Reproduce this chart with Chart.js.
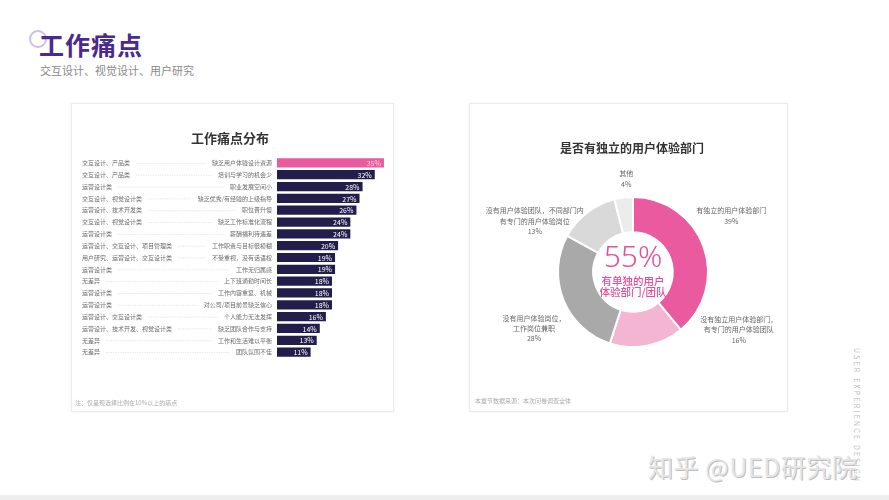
<!DOCTYPE html>
<html>
<head>
<meta charset="utf-8">
<script src="https://cdn.jsdelivr.net/npm/chart.js@4"></script>
<style>
  body { margin: 0; width: 889px; height: 500px; background: #fff; position: relative; overflow: hidden;
         font-family: "Noto Sans CJK SC", "Noto Sans", sans-serif; }
  .abs { position: absolute; }
  #ring { left: 29px; top: 30px; width: 14px; height: 14px; border: 2px solid #cdbfe8; border-radius: 50%; }
  #title { left: 39px; top: 28px; font-size: 25px; font-weight: 700; color: #4a2a8e; letter-spacing: 1px; line-height: 32px; }
  #subtitle { left: 40px; top: 62px; font-size: 11px; color: #8a8a8a; }
  .card { background: #fff; border: 1px solid #ececec; box-shadow: 0 0 3px rgba(0,0,0,0.06); }
  #card1 { left: 71px; top: 103px; width: 321px; height: 307px; }
  #card2 { left: 469px; top: 103px; width: 317px; height: 307px; }
  .ctitle { font-weight: 700; color: #333; text-align: center; line-height: 16px; }
  .note { font-size: 6px; color: #aaa; }
  #vert { left: 852px; top: 348px; writing-mode: vertical-rl; font-size: 7px; letter-spacing: 2.2px; color: #bbb; }
  #mark { left: 648px; top: 448px; font-size: 25px; color: #e6e6e6; text-shadow: 1px 1px 0 #bdbdbd; letter-spacing: 0.5px; }
  #bottom { left: 0; top: 495px; width: 889px; height: 5px; background: #eeeeee; }
</style>
</head>
<body>
<div class="abs" id="ring"></div>
<div class="abs" id="title">工作痛点</div>
<div class="abs" id="subtitle">交互设计、视觉设计、用户研究</div>
<div class="abs card" id="card1"><canvas id="bars" width="321" height="307"></canvas></div>
<div class="abs card" id="card2"><canvas id="donut" width="317" height="307"></canvas></div>
<div class="abs ctitle" style="left:130px;top:130px;width:200px;font-size:13px;">工作痛点分布</div>
<div class="abs ctitle" style="left:532px;top:140px;width:200px;font-size:12px;">是否有独立的用户体验部门</div>
<div class="abs note" style="left:75px;top:398px;">注：仅呈现选择比例在10%以上的痛点</div>
<div class="abs note" style="left:475px;top:396px;">本章节数据来源：本次问卷调查全体</div>
<div class="abs" id="vert">USER EXPERIENCE DESIGN</div>
<div class="abs" id="mark">知乎 @UED研究院</div>
<div class="abs" id="bottom"></div>
<script>
const painGroups = ['交互设计、产品类', '交互设计、产品类', '运营设计类', '交互设计、视觉设计类', '运营设计、技术开发类',
  '交互设计、视觉设计类', '运营设计类', '运营设计、交互设计、项目管理类', '用户研究、运营设计、交互设计类', '运营设计类',
  '无差异', '运营设计类', '运营设计类', '运营设计、交互设计类', '运营设计、技术开发、视觉设计类', '无差异', '无差异'];
const painPoints = ['缺乏用户体验设计资源', '培训与学习的机会少', '职业发展空间小', '缺乏优秀/有经验的上级指导', '职位晋升慢',
  '缺乏工作标准化流程', '薪酬福利待遇差', '工作职责与目标很模糊', '不受重视，没有话语权', '工作无归属感',
  '上下班通勤时间长', '工作内容重复、机械', '对公司/项目前景缺乏信心', '个人能力无法发挥', '缺乏团队合作与支持',
  '工作和生活难以平衡', '团队氛围不佳'];
const painValues = [35, 32, 28, 27, 26, 24, 24, 20, 19, 19, 18, 18, 18, 16, 14, 13, 11];

const deptLabels = [['有独立的用户体验部门'], ['没有独立用户体验部门，', '有专门的用户体验团队'],
  ['没有用户体验岗位，', '工作岗位兼职'], ['没有用户体验团队，不同部门内', '有专门的用户体验岗位'], ['其他']];
const deptValues = [39, 16, 28, 13, 4];
const centerValue = '55%';
const centerText = ['有单独的用户', '体验部门/团队'];

const FONT = '"Noto Sans CJK SC", sans-serif';

// row labels, dotted leaders and value text for the bar chart
const barLabels = {
  id: 'barLabels',
  afterDatasetsDraw(chart) {
    const ctx = chart.ctx;
    const y = chart.scales.y;
    const meta = chart.getDatasetMeta(0);
    ctx.save();
    ctx.textBaseline = 'middle';
    painValues.forEach((v, i) => {
      const py = y.getPixelForValue(i);
      ctx.font = '6px ' + FONT;
      ctx.fillStyle = '#6a6a6a';
      ctx.textAlign = 'left';
      ctx.fillText(painGroups[i], 10, py);
      const leftEnd = 10 + ctx.measureText(painGroups[i]).width + 6;
      ctx.textAlign = 'right';
      ctx.fillText(painPoints[i], 200, py);
      const rightStart = 200 - ctx.measureText(painPoints[i]).width - 6;
      ctx.strokeStyle = '#cfcfcf';
      ctx.lineWidth = 0.6;
      ctx.setLineDash([1.2, 1.2]);
      ctx.beginPath();
      ctx.moveTo(leftEnd, py + 0.5);
      ctx.lineTo(rightStart, py + 0.5);
      ctx.stroke();
      ctx.setLineDash([]);
      const bar = meta.data[i];
      ctx.font = '7px ' + FONT;
      ctx.fillStyle = i === 0 ? '#fbd3e6' : '#ffffff';
      ctx.fillText(v + '%', bar.x - 3, py + 0.5);
    });
    ctx.restore();
  }
};

new Chart(document.getElementById('bars'), {
  type: 'bar',
  data: {
    labels: painPoints,
    datasets: [{
      data: painValues,
      backgroundColor: painValues.map((v, i) => i === 0 ? '#ea5a9e' : '#231d4c'),
      borderWidth: 0,
      barPercentage: 0.78,
      categoryPercentage: 1
    }]
  },
  options: {
    indexAxis: 'y',
    responsive: false,
    animation: false,
    layout: { padding: { left: 205, right: 6, top: 53, bottom: 53 } },
    scales: {
      x: { display: false, min: 0, max: 36 },
      y: { display: false }
    },
    plugins: {
      legend: { display: false },
      tooltip: { enabled: false }
    }
  },
  plugins: [barLabels]
});

// label placement around the donut, in units of the outer radius
const labelSpots = [[1.31, -0.75], [1.41, 0.77], [-1.32, 0.75], [-1.31, -0.68], [-0.09, -1.24]];

const donutText = {
  id: 'donutText',
  afterDatasetsDraw(chart) {
    const ctx = chart.ctx;
    const arc = chart.getDatasetMeta(0).data[0];
    const cx = arc.x, cy = arc.y, r = arc.outerRadius;
    ctx.save();
    ctx.textAlign = 'center';
    ctx.textBaseline = 'middle';
    ctx.fillStyle = '#666';
    ctx.font = '7px ' + FONT;
    deptLabels.forEach((lines, i) => {
      const all = lines.concat([deptValues[i] + '%']);
      const bx = cx + labelSpots[i][0] * r;
      const by = cy + labelSpots[i][1] * r - (all.length - 1) * 5.2;
      all.forEach((t, k) => ctx.fillText(t, bx, by + k * 10.4));
    });
    ctx.fillStyle = '#e2509b';
    ctx.font = '300 30px "Noto Sans", ' + FONT;
    ctx.fillText(centerValue, cx, cy - 14);
    ctx.font = '500 10.5px ' + FONT;
    ctx.fillText(centerText[0], cx, cy + 9);
    ctx.fillText(centerText[1], cx, cy + 20.5);
    ctx.restore();
  }
};

new Chart(document.getElementById('donut'), {
  type: 'doughnut',
  data: {
    labels: deptLabels.map(l => l.join('')),
    datasets: [{
      data: deptValues,
      backgroundColor: ['#ea5a9e', '#f3b5d2', '#a9a9a9', '#d9d9d9', '#ececec'],
      borderColor: '#ffffff',
      borderWidth: 2,
      hoverOffset: 0
    }]
  },
  options: {
    responsive: false,
    animation: false,
    cutout: '53%',
    layout: { padding: { left: 87, right: 78, top: 92, bottom: 63 } },
    plugins: {
      legend: { display: false },
      tooltip: { enabled: false }
    }
  },
  plugins: [donutText]
});
</script>
</body>
</html>
